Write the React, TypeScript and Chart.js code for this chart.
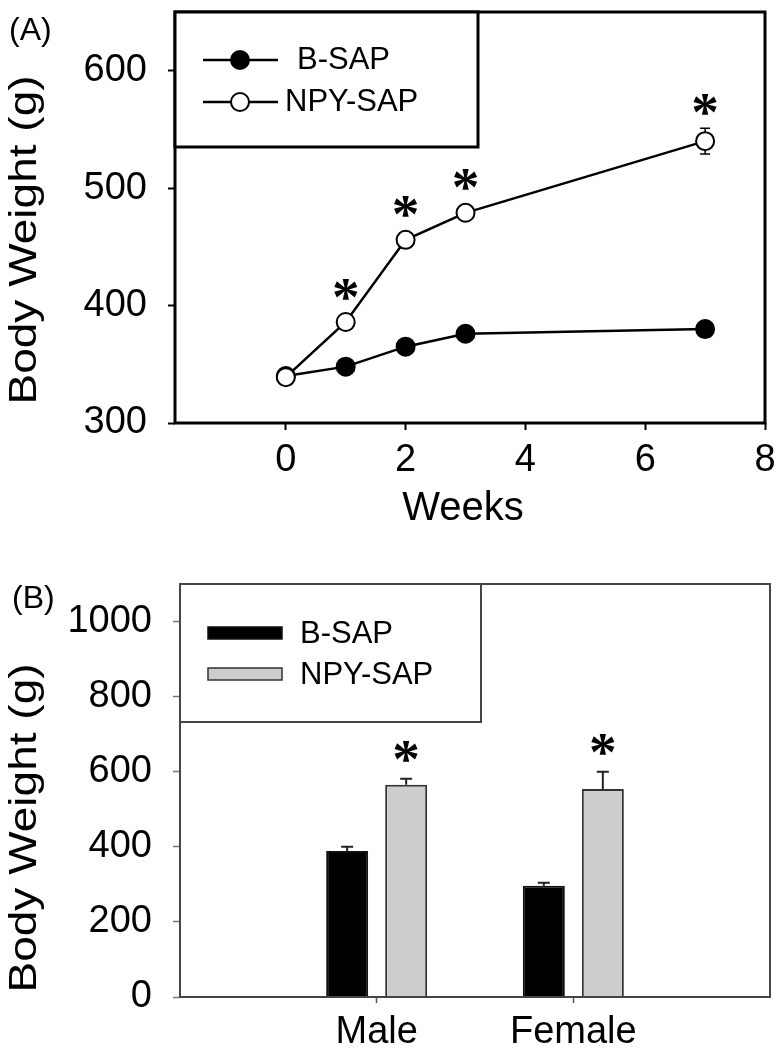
import React, { useEffect, useRef } from 'react';
import { Chart, registerables } from 'chart.js';

Chart.register(...registerables);

// ---------- Panel A data ----------
const weeks = [0, 1, 2, 3, 7];
const bsapWeight = [340, 348, 365, 376, 380];
const bsapSem = [4, 4, 5, 5, 6];
const npyWeight = [339, 386, 456, 479, 540];
const npySem = [4, 5, 6, 6, 11];
const npySig = [false, true, true, true, true];
const bsapSig = [false, false, false, false, false];
const aYTicks = [300, 400, 500, 600];
const aXTicks = [0, 2, 4, 6, 8];

// ---------- Panel B data ----------
const sexes = ['Male', 'Female'];
const bsapBar = [389, 296];
const bsapBarErr = [11, 8];
const npyBar = [565, 554];
const npyBarErr = [16, 46];
const npyBarSig = [true, true];
const bsapBarSig = [false, false];
const bYTicks = [0, 200, 400, 600, 800, 1000];

const FONT = '"Liberation Sans", Arial, Helvetica, sans-serif';

function zeroPad(s: any) {
  s.paddingTop = 0;
  s.paddingBottom = 0;
  s.paddingLeft = 0;
  s.paddingRight = 0;
}

function drawStar(ctx: CanvasRenderingContext2D, cx: number, cy: number) {
  ctx.save();
  ctx.font = `bold 100px "Liberation Serif", "Times New Roman", serif`;
  const m0 = ctx.measureText('*');
  const h0 = m0.actualBoundingBoxAscent + m0.actualBoundingBoxDescent;
  const size = (100 * 21) / h0;
  ctx.font = `bold ${size}px "Liberation Serif", "Times New Roman", serif`;
  const m = ctx.measureText('*');
  ctx.fillStyle = '#000';
  ctx.textAlign = 'center';
  ctx.textBaseline = 'alphabetic';
  ctx.fillText('*', cx, cy + (m.actualBoundingBoxAscent - m.actualBoundingBoxDescent) / 2);
  ctx.restore();
}

function drawYTitle(ctx: CanvasRenderingContext2D, text: string, x: number, y: number) {
  ctx.save();
  ctx.translate(x, y);
  ctx.rotate(-Math.PI / 2);
  ctx.scale(1.18, 1);
  ctx.font = `39px ${FONT}`;
  ctx.fillStyle = '#000';
  ctx.textAlign = 'center';
  ctx.textBaseline = 'alphabetic';
  ctx.fillText(text, 0, 0);
  ctx.restore();
}

const panelAPlugin = {
  id: 'panelA',
  beforeDatasetsDraw(chart: any) {
    const ctx = chart.ctx as CanvasRenderingContext2D;
    const xs = chart.scales.x;
    const ys = chart.scales.y;
    chart.data.datasets.forEach((ds: any) => {
      ds.data.forEach((p: any, i: number) => {
        const e = ds.errors[i];
        const px = xs.getPixelForValue(p.x);
        const top = ys.getPixelForValue(p.y + e);
        const bot = ys.getPixelForValue(p.y - e);
        ctx.save();
        ctx.strokeStyle = '#000';
        ctx.lineWidth = 1.5;
        ctx.beginPath();
        ctx.moveTo(px, top);
        ctx.lineTo(px, bot);
        ctx.moveTo(px - 5, top);
        ctx.lineTo(px + 5, top);
        ctx.moveTo(px - 5, bot);
        ctx.lineTo(px + 5, bot);
        ctx.stroke();
        ctx.restore();
      });
    });
  },
  afterDatasetsDraw(chart: any) {
    const ctx = chart.ctx as CanvasRenderingContext2D;
    const area = chart.chartArea;
    const xs = chart.scales.x;
    const ys = chart.scales.y;

    // stars
    chart.data.datasets.forEach((ds: any) => {
      ds.data.forEach((p: any, i: number) => {
        if (!ds.sig[i]) return;
        const px = xs.getPixelForValue(p.x);
        const top = Math.min(ys.getPixelForValue(p.y + ds.errors[i]), ys.getPixelForValue(p.y) - 9);
        drawStar(ctx, px, top - 24);
      });
    });

    // frame
    ctx.save();
    ctx.strokeStyle = '#000';
    ctx.lineWidth = 3;
    ctx.strokeRect(area.left, area.top, area.right - area.left, area.bottom - area.top);
    ctx.restore();

    // legend
    const lx0 = area.left;
    const ly0 = area.top;
    ctx.save();
    ctx.fillStyle = '#fff';
    ctx.fillRect(lx0, ly0, 478 - lx0, 147 - ly0);
    ctx.strokeStyle = '#000';
    ctx.lineWidth = 3;
    ctx.strokeRect(lx0, ly0, 478 - lx0, 147 - ly0);
    const rowsY = [60, 102];
    const textX = [297, 285];
    chart.data.datasets.forEach((ds: any, k: number) => {
      const y = rowsY[k];
      ctx.strokeStyle = ds.borderColor;
      ctx.lineWidth = ds.borderWidth;
      ctx.beginPath();
      ctx.moveTo(203, y);
      ctx.lineTo(278, y);
      ctx.stroke();
      ctx.beginPath();
      ctx.arc(240, y, ds.pointRadius, 0, Math.PI * 2);
      ctx.fillStyle = ds.pointBackgroundColor;
      ctx.fill();
      ctx.lineWidth = ds.pointBorderWidth;
      ctx.strokeStyle = ds.pointBorderColor;
      ctx.stroke();
      ctx.fillStyle = '#000';
      ctx.font = `31px ${FONT}`;
      ctx.textAlign = 'left';
      ctx.textBaseline = 'alphabetic';
      ctx.fillText(ds.label, textX[k], y + 9);
    });
    ctx.restore();

    // titles
    ctx.save();
    ctx.fillStyle = '#000';
    ctx.font = `40px ${FONT}`;
    ctx.textAlign = 'center';
    ctx.textBaseline = 'alphabetic';
    ctx.fillText('Weeks', 463, 520);
    ctx.font = `32px ${FONT}`;
    ctx.textAlign = 'left';
    ctx.fillText('(A)', 9, 40);
    ctx.restore();
    drawYTitle(ctx, 'Body Weight (g)', 36, 240);
  },
};

const panelBPlugin = {
  id: 'panelB',
  afterDatasetsDraw(chart: any) {
    const ctx = chart.ctx as CanvasRenderingContext2D;
    const area = chart.chartArea;
    const ys = chart.scales.y;

    // error bars (upper) and stars
    chart.data.datasets.forEach((ds: any, di: number) => {
      const meta = chart.getDatasetMeta(di);
      ds.data.forEach((p: any, i: number) => {
        const bar = meta.data[i];
        const px = bar.x;
        const top = ys.getPixelForValue(p.y + ds.errors[i]);
        const base = ys.getPixelForValue(p.y);
        ctx.save();
        ctx.strokeStyle = '#222';
        ctx.lineWidth = 2;
        ctx.beginPath();
        ctx.moveTo(px, base);
        ctx.lineTo(px, top);
        ctx.moveTo(px - 6, top);
        ctx.lineTo(px + 6, top);
        ctx.stroke();
        ctx.restore();
        if (ds.sig[i]) drawStar(ctx, px, top - 27);
      });
    });

    // frame
    ctx.save();
    ctx.strokeStyle = '#444';
    ctx.lineWidth = 2;
    ctx.strokeRect(area.left, area.top, area.right - area.left, area.bottom - area.top);
    ctx.restore();

    // legend
    const lx0 = area.left;
    const ly0 = area.top;
    const lx1 = 481;
    const ly1 = 722 - 525;
    ctx.save();
    ctx.fillStyle = '#fff';
    ctx.fillRect(lx0, ly0, lx1 - lx0, ly1 - ly0);
    ctx.strokeStyle = '#444';
    ctx.lineWidth = 2;
    ctx.strokeRect(lx0, ly0, lx1 - lx0, ly1 - ly0);
    const rowsY = [108, 149];
    chart.data.datasets.forEach((ds: any, k: number) => {
      const y = rowsY[k];
      ctx.fillStyle = ds.backgroundColor;
      ctx.fillRect(208, y - 6, 74, 12);
      ctx.strokeStyle = ds.borderColor;
      ctx.lineWidth = 1.5;
      ctx.strokeRect(208, y - 6, 74, 12);
      ctx.fillStyle = '#000';
      ctx.font = `31px ${FONT}`;
      ctx.textAlign = 'left';
      ctx.textBaseline = 'alphabetic';
      ctx.fillText(ds.label, 300, y + 10);
    });
    ctx.restore();

    ctx.save();
    ctx.fillStyle = '#000';
    ctx.font = `32px ${FONT}`;
    ctx.textAlign = 'left';
    ctx.textBaseline = 'alphabetic';
    ctx.fillText('(B)', 12, 83);
    ctx.restore();
    drawYTitle(ctx, 'Body Weight (g)', 36, 303);
  },
};

function PanelA() {
  const ref = useRef<HTMLCanvasElement>(null);
  useEffect(() => {
    const chart = new Chart(ref.current as HTMLCanvasElement, {
      type: 'line',
      data: {
        datasets: [
          {
            label: 'B-SAP',
            data: weeks.map((w, i) => ({ x: w, y: bsapWeight[i] })),
            borderColor: '#000',
            borderWidth: 2.5,
            pointRadius: 9,
            pointBackgroundColor: '#000',
            pointBorderColor: '#000',
            pointBorderWidth: 2,
            order: 2,
            errors: bsapSem,
            sig: bsapSig,
          } as any,
          {
            label: 'NPY-SAP',
            data: weeks.map((w, i) => ({ x: w, y: npyWeight[i] })),
            borderColor: '#000',
            borderWidth: 2.5,
            pointRadius: 9,
            pointBackgroundColor: '#fff',
            pointBorderColor: '#000',
            pointBorderWidth: 2,
            order: 1,
            errors: npySem,
            sig: npySig,
          } as any,
        ],
      },
      options: {
        animation: false,
        responsive: false,
        layout: { padding: { top: 12, right: 18, left: 0, bottom: 0 } },
        plugins: { legend: { display: false }, tooltip: { enabled: false } },
        scales: {
          x: {
            type: 'linear',
            min: -1.85,
            max: 8,
            afterBuildTicks: (s: any) => {
              s.ticks = aXTicks.map((v) => ({ value: v }));
            },
            afterFit: (s: any) => {
              s.height = 525 - 423;
              zeroPad(s);
            },
            border: { display: false },
            grid: { drawOnChartArea: false, drawTicks: true, tickLength: 7, tickColor: '#000', tickWidth: 2 },
            ticks: { color: '#000', font: { family: FONT, size: 38 }, padding: 8, maxRotation: 0, autoSkip: false },
          },
          y: {
            type: 'linear',
            min: 300,
            max: 650,
            afterBuildTicks: (s: any) => {
              s.ticks = aYTicks.map((v) => ({ value: v }));
            },
            afterFit: (s: any) => {
              s.width = 175;
              zeroPad(s);
            },
            border: { display: false },
            grid: { drawOnChartArea: false, drawTicks: true, tickLength: 7, tickColor: '#000', tickWidth: 2 },
            ticks: { color: '#000', font: { family: FONT, size: 38 }, padding: 21, autoSkip: false, callback: (v: any) => String(v) },
          },
        },
      } as any,
      plugins: [panelAPlugin],
    });
    return () => chart.destroy();
  }, []);
  return <canvas ref={ref} width={783} height={525} style={{ display: 'block' }} />;
}

function PanelB() {
  const ref = useRef<HTMLCanvasElement>(null);
  useEffect(() => {
    const chart = new Chart(ref.current as HTMLCanvasElement, {
      type: 'bar',
      data: {
        datasets: [
          {
            label: 'B-SAP',
            data: sexes.map((s, i) => ({ x: i, y: bsapBar[i] })),
            backgroundColor: '#000',
            borderColor: '#111',
            borderWidth: 2,
            categoryPercentage: 0.6,
            barPercentage: 0.712,
            errors: bsapBarErr,
            sig: bsapBarSig,
          } as any,
          {
            label: 'NPY-SAP',
            data: sexes.map((s, i) => ({ x: i, y: npyBar[i] })),
            backgroundColor: '#cdcdcd',
            borderColor: '#333',
            borderWidth: 2,
            categoryPercentage: 0.6,
            barPercentage: 0.712,
            errors: npyBarErr,
            sig: npyBarSig,
          } as any,
        ],
      },
      options: {
        animation: false,
        responsive: false,
        layout: { padding: { top: 584 - 525, right: 13, left: 0, bottom: 0 } },
        plugins: { legend: { display: false }, tooltip: { enabled: false } },
        scales: {
          x: {
            type: 'linear',
            min: -1,
            max: 2,
            offset: false,
            afterBuildTicks: (s: any) => {
              s.ticks = sexes.map((_, i) => ({ value: i }));
            },
            afterFit: (s: any) => {
              s.height = 1050 - 997;
              zeroPad(s);
            },
            border: { display: false },
            grid: { offset: false, drawOnChartArea: false, drawTicks: true, tickLength: 6, tickColor: '#555', tickWidth: 1.5 },
            ticks: {
              color: '#000',
              font: { family: FONT, size: 38 },
              padding: 7,
              maxRotation: 0,
              autoSkip: false,
              callback: (v: any) => sexes[Math.round(Number(v))] ?? '',
            },
          },
          y: {
            type: 'linear',
            min: 0,
            max: 1100,
            afterBuildTicks: (s: any) => {
              s.ticks = bYTicks.map((v) => ({ value: v }));
            },
            afterFit: (s: any) => {
              s.width = 180;
              zeroPad(s);
            },
            border: { display: false },
            grid: { drawOnChartArea: false, drawTicks: true, tickLength: 7, tickColor: '#777', tickWidth: 1.5 },
            ticks: { color: '#000', font: { family: FONT, size: 38 }, padding: 21, autoSkip: false, callback: (v: any) => String(v) },
          },
        },
      } as any,
      plugins: [panelBPlugin],
    });
    return () => chart.destroy();
  }, []);
  return <canvas ref={ref} width={783} height={525} style={{ display: 'block' }} />;
}

export default function App() {
  return (
    <div style={{ position: 'absolute', left: 0, top: 0, width: 783, height: 1050, background: '#fff' }}>
      <PanelA />
      <PanelB />
    </div>
  );
}
